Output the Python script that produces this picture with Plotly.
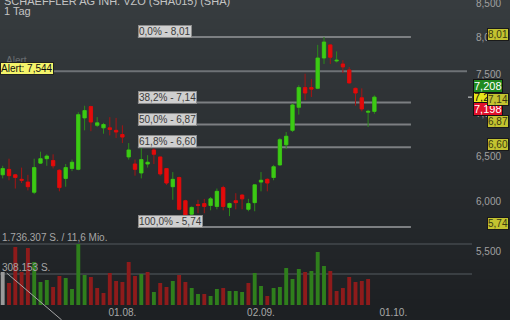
import math
import pandas as pd
import plotly.graph_objects as go

# ---------------- data ----------------
title_text = "SCHAEFFLER AG INH. VZO (SHA015) (SHA)"
period_text = "1 Tag"

opens  = [6.29, 6.35, 6.29, 6.24, 6.21, 6.10, 6.42, 6.47, 6.45, 6.34,
          6.25, 6.36, 6.35, 6.95, 7.09, 6.86, 6.83, 6.83, 6.80, 6.75,
          6.49, 6.41, 6.31, 6.41, 6.57, 6.49, 6.36, 6.16, 6.26, 6.01,
          5.87, 5.97, 5.98, 5.96, 5.95, 6.15, 5.94, 6.01, 6.07, 5.92,
          5.99, 6.21, 6.24, 6.26, 6.40, 6.63, 6.80, 7.08, 7.33, 7.33,
          7.32, 7.72, 7.90, 7.68, 7.64, 7.56, 7.32, 7.20, 7.02, 7.03]
highs  = [6.39, 6.47, 6.30, 6.37, 6.29, 6.47, 6.55, 6.52, 6.52, 6.35,
          6.41, 6.46, 7.02, 7.10, 7.10, 6.96, 6.89, 6.96, 6.95, 6.86,
          6.65, 6.46, 6.59, 6.51, 6.60, 6.49, 6.36, 6.32, 6.27, 6.02,
          5.95, 6.02, 6.03, 6.05, 6.14, 6.17, 5.99, 6.09, 6.08, 6.03,
          6.18, 6.32, 6.25, 6.40, 6.71, 6.78, 7.13, 7.36, 7.51, 7.44,
          7.90, 8.01, 7.91, 7.81, 7.69, 7.60, 7.33, 7.32, 7.05, 7.23]
lows   = [6.25, 6.23, 6.14, 6.20, 6.12, 6.08, 6.41, 6.39, 6.36, 6.11,
          6.16, 6.33, 6.34, 6.80, 6.79, 6.84, 6.76, 6.74, 6.71, 6.65,
          6.46, 6.28, 6.25, 6.37, 6.41, 6.28, 6.18, 6.02, 5.91, 5.74,
          5.85, 5.88, 5.88, 5.91, 5.92, 5.91, 5.85, 5.92, 5.92, 5.90,
          5.90, 6.11, 6.11, 6.23, 6.39, 6.58, 6.78, 6.99, 7.17, 7.21,
          7.31, 7.64, 7.64, 7.66, 7.52, 7.38, 7.10, 7.03, 6.84, 7.00]
closes = [6.36, 6.28, 6.26, 6.23, 6.16, 6.37, 6.47, 6.50, 6.39, 6.15,
          6.37, 6.43, 6.99, 7.04, 6.90, 6.89, 6.87, 6.81, 6.78, 6.72,
          6.57, 6.35, 6.46, 6.43, 6.52, 6.30, 6.20, 6.24, 5.92, 5.83,
          5.94, 5.96, 5.95, 6.03, 6.11, 5.95, 5.98, 5.99, 6.03, 5.98,
          6.18, 6.23, 6.20, 6.38, 6.69, 6.73, 7.11, 7.33, 7.26, 7.31,
          7.72, 7.94, 7.73, 7.69, 7.60, 7.39, 7.26, 7.06, 7.03, 7.208]
volumes = [939000, 626000, 1651000, 939000, 1622000, 1224000, 655000, 712000, 512000, 825000,
           769000, 455000, 1736307, 854000, 797000, 484000, 342000, 911000, 683000, 655000,
           1224000, 825000, 882000, 939000, 370000, 626000, 512000, 683000, 854000, 655000,
           484000, 313000, 313000, 256000, 455000, 484000, 398000, 398000, 370000, 626000,
           911000, 541000, 256000, 484000, 512000, 1053000, 740000, 1025000, 939000, 968000,
           1509000, 1110000, 968000, 398000, 484000, 797000, 655000, 683000, 740000, None]

first_day = "2024-07-05"
tick_dates = ["2024-08-01", "2024-09-02", "2024-10-01"]
tick_labels = ["01.08.", "02.09.", "01.10."]

price_ticks = [5.5, 6.0, 6.5, 7.0, 7.5, 8.0, 8.5]
price_tick_labels = ["5,500", "6,000", "6,500", "7,000", "7,500", "8,000", "8,500"]

fib_levels = [8.01, 7.14, 6.87, 6.60, 5.74]
fib_texts = ["0,0% - 8,01", "38,2% - 7,14", "50,0% - 6,87", "61,8% - 6,60", "100,0% - 5,74"]
fib_side_texts = ["8,01", "7,14", "6,87", "6,60", "5,74"]
fib_from, fib_to = "2024-08-06", "2024-10-04"

alert_level = 7.544
alert_text = "Alert: 7,544"

ask_text, last_text, bid_text = "7,208", "7,203", "7,198"
vol_levels = [1736307, 882000]
vol_texts = ["1.736.307 S. / 11,6 Mio.", "308.153 S."]

# ---------------- derived ----------------
all_days = pd.bdate_range(first_day, periods=80)
n = len(closes)
xs = list(range(n))
pos = {d.strftime("%Y-%m-%d"): i for i, d in enumerate(all_days)}
tick_pos = [pos[d] for d in tick_dates]

vol_colors = []
for i in range(n):
    if i == 0:
        vol_colors.append("#9a9a9a")
    elif closes[i] >= closes[i - 1]:
        vol_colors.append("#2f7f1c")
    else:
        vol_colors.append("#8e1b1b")

body_hi = [max(o, c) for o, c in zip(opens, closes)]
body_lo = [min(o, c) for o, c in zip(opens, closes)]

GREEN_B, GREEN_W = "#3ccb14", "#2b8a1a"
RED_B, RED_W = "#e30b0b", "#a51414"
FONT = "Liberation Sans, Arial, sans-serif"

fig = go.Figure()

# wicks (darker)
fig.add_trace(go.Candlestick(
    x=xs, open=opens, high=highs, low=lows, close=closes,
    increasing=dict(line=dict(color=GREEN_W, width=1), fillcolor=GREEN_W),
    decreasing=dict(line=dict(color=RED_W, width=1), fillcolor=RED_W),
    whiskerwidth=0, hoverinfo="skip", showlegend=False))
# bodies (bright)
fig.add_trace(go.Candlestick(
    x=xs, open=opens, high=body_hi, low=body_lo, close=closes,
    increasing=dict(line=dict(color=GREEN_B, width=0.6), fillcolor=GREEN_B),
    decreasing=dict(line=dict(color=RED_B, width=0.6), fillcolor=RED_B),
    whiskerwidth=0, hoverinfo="skip", showlegend=False))

# volume
vol_top = max(v for v in volumes if v) * 305 / 61
fig.add_trace(go.Bar(x=xs, y=volumes, marker=dict(color=vol_colors, line=dict(width=0)),
                     width=0.62, yaxis="y2", showlegend=False, hoverinfo="skip"))

# ---------------- layout geometry ----------------
W, H = 510, 320
PL, PR, PT, PB = 0, 40, 0, 15
pw, ph = W - PL - PR, H - PT - PB
px_per_bar = 6.3
x0_idx = -2.7 / px_per_bar
x1_idx = x0_idx + pw / px_per_bar

top_log = (math.log(8.01) + 37 / 570) / math.log(10)
bot_log = (math.log(8.01) - (ph - 37) / 570) / math.log(10)

shapes = []
# background gradient
nb = 32
ytop_p, ybot_p = 1 + PT / ph, -PB / ph
for k in range(nb):
    t = k / (nb - 1)
    r = int(55 + (29 - 55) * t)
    g = int(60 + (32 - 60) * t)
    b = int(63 + (35 - 63) * t)
    ya = ytop_p - (ytop_p - ybot_p) * k / nb
    yb = ytop_p - (ytop_p - ybot_p) * (k + 1) / nb
    shapes.append(dict(type="rect", xref="paper", yref="paper", x0=-0.01, x1=W / pw + 0.01,
                       y0=yb - 0.002, y1=ya + 0.002, fillcolor=f"rgb({r},{g},{b})",
                       line=dict(width=0), layer="below"))

# volume reference lines
for v in vol_levels:
    shapes.append(dict(type="line", xref="paper", yref="y2", x0=0, x1=472 / pw, y0=v, y1=v,
                       line=dict(color="#3a3f43", width=2), layer="below"))

# fib lines
fx0, fx1 = pos[fib_from] - 0.55, pos[fib_to] - 0.2
for lv in fib_levels:
    shapes.append(dict(type="line", xref="x", yref="y", x0=fx0, x1=fx1, y0=lv, y1=lv,
                       line=dict(color="#7c7f82", width=2), layer="below"))
# alert line
shapes.append(dict(type="line", xref="paper", yref="y", x0=0, x1=467 / pw, y0=alert_level, y1=alert_level,
                   line=dict(color="#6e7276", width=2), layer="below"))
# drawn trend line on volume
shapes.append(dict(type="line", xref="paper", yref="paper", x0=6.7 / pw, y0=1 - 273 / ph,
                   x1=61.7 / pw, y1=1 - 320 / ph, line=dict(color="#a8a8a8", width=1)))
# last-price marker
shapes.append(dict(type="line", xref="paper", yref="y", x0=468 / pw, x1=472 / pw,
                   y0=closes[-1], y1=closes[-1], line=dict(color="#dddddd", width=1)))

ann = []
lg = math.log10
ann.append(dict(text=title_text, xref="paper", yref="paper", x=0, y=1 - 1 / ph, xshift=2,
                xanchor="left", yanchor="middle", showarrow=False,
                font=dict(family=FONT, size=11, color="#c4c4c4")))
ann.append(dict(text=period_text, xref="paper", yref="paper", x=0, y=1 - 11 / ph, xshift=2,
                xanchor="left", yanchor="middle", showarrow=False,
                font=dict(family=FONT, size=11, color="#c4c4c4")))

for lv, tx in zip(fib_levels, fib_texts):
    ann.append(dict(text=tx, xref="x", yref="y", x=fx0, y=lg(lv), xanchor="left", yanchor="bottom",
                    yshift=-1, showarrow=False, bgcolor="#cfcfcf", bordercolor="#8c8c8c",
                    borderwidth=1, borderpad=0, font=dict(family=FONT, size=10, color="#3a3a3a")))
for lv, tx in zip(fib_levels, fib_side_texts):
    ann.append(dict(text=tx, xref="paper", yref="y", x=487 / pw, y=lg(lv), xanchor="left",
                    yanchor="middle", yshift=3, showarrow=False, bgcolor="#c3c330",
                    bordercolor="#1a1a1a", borderwidth=1, borderpad=0,
                    font=dict(family=FONT, size=10, color="#3a3a10")))

ann.append(dict(text="Alert", xref="paper", yref="y", x=0, y=lg(alert_level), xshift=4, yshift=11,
                xanchor="left", yanchor="middle", showarrow=False,
                font=dict(family=FONT, size=10, color="#6a6e72")))
ann.append(dict(text=alert_text, xref="paper", yref="y", x=0, y=lg(alert_level), xanchor="left",
                yanchor="middle", yshift=3, showarrow=False, bgcolor="#f4f46a",
                bordercolor="#222222", borderwidth=1, borderpad=0,
                font=dict(family=FONT, size=10, color="#111111")))

# price boxes at right
last_y = lg(closes[-1])
for tx, bg, fc, sh in [(last_text, "#e6e61a", "#111111", 0),
                       (ask_text, "#1f8a1f", "#ffffff", 11),
                       (bid_text, "#e0102a", "#ffffff", -12)]:
    ann.append(dict(text=tx, xref="paper", yref="y", x=473 / pw, y=last_y, xanchor="left",
                    yanchor="middle", yshift=sh, showarrow=False, bgcolor=bg,
                    bordercolor="#111111", borderwidth=1, borderpad=0,
                    font=dict(family=FONT, size=11, color=fc)))
# re-draw 7,14 on top of price boxes
ann.append(dict(text=fib_side_texts[1], xref="paper", yref="y", x=487 / pw, y=lg(fib_levels[1]),
                xanchor="left", yanchor="middle", yshift=3, showarrow=False, bgcolor="#c3c330",
                bordercolor="#1a1a1a", borderwidth=1, borderpad=0,
                font=dict(family=FONT, size=10, color="#3a3a10")))

for v, tx in zip(vol_levels, vol_texts):
    ann.append(dict(text=tx, xref="paper", yref="y2", x=0, y=v, xanchor="left", yanchor="bottom",
                    yshift=-1, showarrow=False,
                    font=dict(family=FONT, size=10, color="#a6a6a6")))

fig.update_layout(
    width=W, height=H,
    margin=dict(l=PL, r=PR, t=PT, b=PB, pad=0, autoexpand=False),
    paper_bgcolor="#2a2e31", plot_bgcolor="rgba(0,0,0,0)",
    boxgap=0.25,
    showlegend=False,
    xaxis=dict(range=[x0_idx, x1_idx], tickvals=tick_pos, ticktext=tick_labels,
               showgrid=False, zeroline=False, showline=False, ticks="", automargin=False,
               tickfont=dict(family=FONT, size=10, color="#a8a8a8"),
               rangeslider=dict(visible=False), fixedrange=True),
    yaxis=dict(type="log", range=[bot_log, top_log], side="right",
               tickvals=price_ticks, ticktext=price_tick_labels,
               showgrid=False, zeroline=False, showline=False, ticks="", automargin=False,
               ticklabelstandoff=5, ticklabeloverflow="allow",
               tickfont=dict(family=FONT, size=10, color="#a0a0a0")),
    yaxis2=dict(overlaying="y", range=[0, vol_top], visible=False, automargin=False),
    shapes=shapes, annotations=ann,
)

fig.write_html("out.html")
